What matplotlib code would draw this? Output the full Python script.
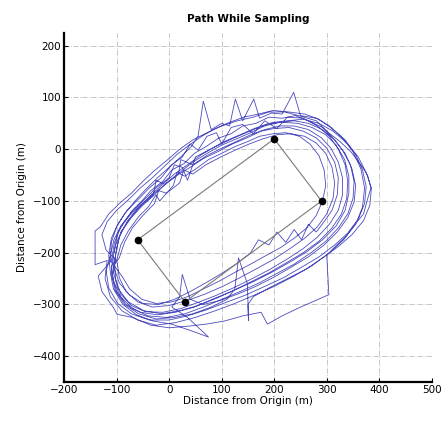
import matplotlib.pyplot as plt


# waypoints of the sampling box (m)
WAYPOINT_X = [200, 290, 30, -60]
WAYPOINT_Y = [20, -100, -295, -175]

# vehicle track, read lap by lap off the figure (x, y in m)
LAP_01 = [(-105, -200), (-98, -162), (-85, -140), (-70, -118), (-52, -100), (-35, -80),
          (-12, -62), (5, -40), (28, -28), (48, -8), (70, 5), (95, 22), (118, 30),
          (140, 45), (165, 50), (190, 62), (215, 60), (240, 65), (265, 55), (292, 42),
          (312, 22), (330, -2), (345, -30), (352, -62), (350, -95), (340, -125),
          (322, -152), (298, -178), (270, -200), (238, -222), (205, -240), (172, -258),
          (135, -275), (100, -290), (65, -305), (30, -318), (-5, -325), (-40, -322),
          (-70, -308), (-92, -285), (-106, -255), (-110, -225)]
LAP_02 = [(-100, -215), (-92, -185), (-78, -158), (-58, -130), (-40, -112), (-25, -88),
          (-18, -100), (8, -70), (15, -45), (30, -52), (55, -35), (75, -20), (100, -8),
          (125, 5), (150, 15), (172, 25), (198, 30), (222, 32), (248, 25), (268, 10),
          (285, -12), (295, -40), (298, -70), (292, -100), (280, -128), (262, -152),
          (238, -172), (212, -190), (185, -205), (155, -222), (125, -238), (95, -255),
          (65, -270), (35, -285), (5, -295), (-25, -298), (-52, -290), (-75, -270),
          (-90, -245)]
LAP_03 = [(-112, -215), (-110, -180), (-100, -150), (-85, -125), (-65, -100), (-45, -78),
          (-22, -55), (0, -35), (22, -15), (42, 5), (55, 25), (65, 93), (80, 38),
          (100, 50), (115, 45), (126, 97), (140, 55), (161, 97), (172, 60), (195, 70),
          (215, 68), (237, 110), (250, 65), (280, 60), (305, 45), (330, 22), (350, -5),
          (365, -38), (372, -75), (368, -112), (355, -145), (332, -175), (305, -200),
          (272, -225), (238, -245), (200, -265), (162, -282), (125, -298), (88, -312),
          (50, -325), (12, -335), (-25, -340), (-60, -330), (-90, -312), (-112, -285),
          (-122, -250)]
LAP_04 = [(-118, -215), (-141, -223), (-141, -158), (-131, -150), (-115, -125),
          (-95, -105), (-72, -85), (-50, -62), (-30, -43), (-5, -22), (20, 0), (45, 18),
          (72, 32), (100, 45), (130, 55), (160, 62), (190, 72), (220, 72), (250, 64),
          (280, 55), (302, 33), (325, 15), (346, -5), (365, -30), (378, -51), (384, -75),
          (378, -95), (370, -125), (352, -147), (335, -170), (313, -191), (300, -205),
          (304, -281), (250, -305), (215, -322), (187, -338), (175, -315), (140, -322),
          (105, -332), (70, -338), (35, -342), (0, -345), (-35, -340), (-70, -325),
          (-99, -319), (-106, -306), (-128, -275), (-135, -245)]
LAP_05 = [(-110, -215), (-104, -180), (-92, -150), (-75, -128), (-55, -108), (-32, -88),
          (-10, -70), (15, -50), (40, -35), (65, -18), (92, -5), (120, 10), (148, 22),
          (175, 35), (200, 40), (228, 42), (255, 35), (280, 22), (300, 2), (315, -25),
          (322, -55), (320, -88), (310, -118), (295, -140), (280, -160), (265, -145),
          (252, -175), (238, -155), (222, -180), (205, -160), (190, -185), (170, -175),
          (155, -200), (130, -220), (100, -240), (70, -258), (40, -275), (10, -290),
          (-20, -300), (-50, -298), (-75, -282), (-95, -258), (-104, -232)]
LAP_06 = [(-102, -205), (-95, -170), (-80, -140), (-60, -115), (-38, -92), (-15, -70),
          (10, -48), (35, -30), (62, -10), (88, 5), (115, 18), (142, 30), (170, 42),
          (198, 52), (225, 55), (255, 58), (285, 50), (312, 35), (338, 12), (360, -15),
          (375, -45), (385, -75), (382, -108), (370, -138), (348, -165), (322, -188),
          (292, -210), (260, -232), (225, -250), (190, -268), (160, -285), (150, -300),
          (151, -331), (149, -260), (132, -210), (125, -270), (110, -290), (80, -305),
          (45, -318), (10, -325), (-25, -328), (-58, -318), (-85, -300), (-103, -272),
          (-110, -240)]
LAP_07 = [(-108, -215), (-102, -185), (-90, -158), (-72, -132), (-52, -110), (-28, -88),
          (-5, -65), (20, -45), (45, -25), (72, -8), (100, 8), (128, 20), (155, 32),
          (182, 45), (210, 52), (238, 55), (265, 50), (292, 38), (315, 18), (335, -8),
          (348, -38), (355, -70), (352, -102), (340, -132), (320, -160), (295, -185),
          (265, -208), (232, -228), (198, -248), (165, -265), (130, -280), (98, -292),
          (65, -300), (40, -290), (25, -242), (20, -285), (5, -305), (35, -325),
          (75, -363), (40, -350), (5, -338), (-30, -332), (-62, -320), (-88, -300),
          (-106, -270), (-112, -238)]
LAP_08 = [(-115, -205), (-110, -172), (-98, -145), (-80, -118), (-60, -98), (-38, -75),
          (-15, -55), (5, -30), (25, -15), (40, 10), (55, -2), (72, 25), (90, 32),
          (100, 10), (118, 42), (140, 48), (160, 30), (182, 55), (205, 40), (225, 62),
          (255, 60), (282, 45), (305, 25), (322, 0), (335, -30), (340, -62), (338, -95),
          (328, -125), (310, -152), (285, -178), (255, -200), (222, -220), (188, -240),
          (152, -258), (118, -275), (82, -290), (48, -305), (12, -315), (-22, -320),
          (-55, -315), (-82, -300), (-100, -275), (-108, -245)]
LAP_09 = [(-100, -190), (-92, -160), (-76, -135), (-55, -110), (-30, -88), (-25, -60),
          (-8, -68), (18, -48), (22, -20), (45, -30), (72, -12), (100, 2), (128, 15),
          (155, 28), (182, 38), (210, 45), (238, 45), (265, 38), (290, 22), (308, 2),
          (322, -25), (330, -55), (330, -88), (322, -118), (305, -145), (282, -170),
          (255, -192), (225, -212), (192, -232), (158, -250), (122, -268), (88, -283),
          (55, -296), (22, -308), (-12, -315), (-45, -314), (-72, -302), (-92, -280),
          (-102, -250), (-104, -222)]
LAP_10 = [(-95, -210), (-85, -180), (-70, -152), (-50, -128), (-28, -105), (-20, -80),
          (-5, -85), (20, -65), (28, -40), (45, -48), (70, -30), (98, -15), (125, -2),
          (152, 10), (178, 20), (205, 28), (232, 30), (258, 25), (280, 12), (298, -8),
          (310, -35), (315, -65), (312, -95), (300, -125), (282, -150), (258, -172),
          (230, -192), (200, -212), (168, -230), (135, -248), (102, -265), (68, -280),
          (35, -292), (0, -302), (-32, -305), (-60, -295), (-82, -275), (-95, -248),
          (-98, -225)]
LAP_11 = [(-100, -215), (-120, -195), (-128, -165), (-118, -140), (-100, -118),
          (-78, -98), (-55, -75), (-32, -55), (-8, -32), (15, -10), (38, 8), (62, 25),
          (88, 40), (115, 52), (142, 62), (170, 68), (198, 75), (228, 72), (258, 68),
          (285, 58), (310, 40), (335, 18), (355, -10), (368, -40), (375, -72),
          (372, -105), (360, -135), (340, -162), (315, -185), (285, -208), (252, -228),
          (218, -248), (182, -265), (145, -282), (108, -296), (72, -310), (35, -322),
          (0, -330), (-38, -330), (-72, -318), (-98, -298), (-115, -268), (-120, -235)]
LAP_12 = [(-112, -205), (-105, -175), (-92, -148), (-72, -122), (-48, -98), (-25, -75),
          (0, -55), (10, -30), (25, -35), (35, -60), (50, -15), (78, 0), (105, 15),
          (135, 28), (162, 40), (190, 50), (218, 52), (245, 50), (272, 42), (298, 28),
          (318, 8), (334, -20), (342, -52), (342, -85), (335, -118), (318, -148),
          (292, -175), (262, -198), (230, -218), (195, -238), (160, -256), (125, -272),
          (90, -288), (55, -302), (20, -312), (-15, -318), (-48, -312), (-78, -295),
          (-98, -268), (-106, -238), (-105, -210)]

LAPS = [LAP_01, LAP_02, LAP_03, LAP_04, LAP_05, LAP_06,
        LAP_07, LAP_08, LAP_09, LAP_10, LAP_11, LAP_12]


def main():
    track = [pt for lap in LAPS for pt in lap]
    track_x = [p[0] for p in track]
    track_y = [p[1] for p in track]

    fig = plt.figure(figsize=(4.42, 4.26), dpi=100)
    ax = fig.add_axes([0.145, 0.103, 0.832, 0.82])

    ax.plot(track_x, track_y, color=(0.17, 0.17, 0.70), lw=0.6, alpha=0.85, zorder=2)

    box_x = WAYPOINT_X + WAYPOINT_X[:1]
    box_y = WAYPOINT_Y + WAYPOINT_Y[:1]
    ax.plot(box_x, box_y, color="#7a7a7a", lw=0.8, zorder=3)
    ax.plot(WAYPOINT_X, WAYPOINT_Y, "o", color="black", ms=4.5, zorder=4)

    ax.set_xlim(-200, 500)
    ax.set_ylim(-450, 225)
    ax.set_xticks(range(-200, 501, 100))
    ax.set_yticks(range(-400, 201, 100))
    ax.grid(True, color="#bdbdbd", linestyle="-.", lw=0.6)
    ax.set_axisbelow(True)

    for side in ("top", "right"):
        ax.spines[side].set_visible(False)
    for side in ("left", "bottom"):
        ax.spines[side].set_linewidth(1.6)
    ax.tick_params(direction="in", length=3, labelsize=7.5, pad=2)

    ax.set_title("Path While Sampling", fontsize=7.5, fontweight="bold", pad=8)
    ax.set_xlabel("Distance from Origin (m)", fontsize=7.5, labelpad=1)
    ax.set_ylabel("Distance from Origin (m)", fontsize=7.5, labelpad=4)

    fig.savefig("out.png", dpi=100)


if __name__ == "__main__":
    main()
